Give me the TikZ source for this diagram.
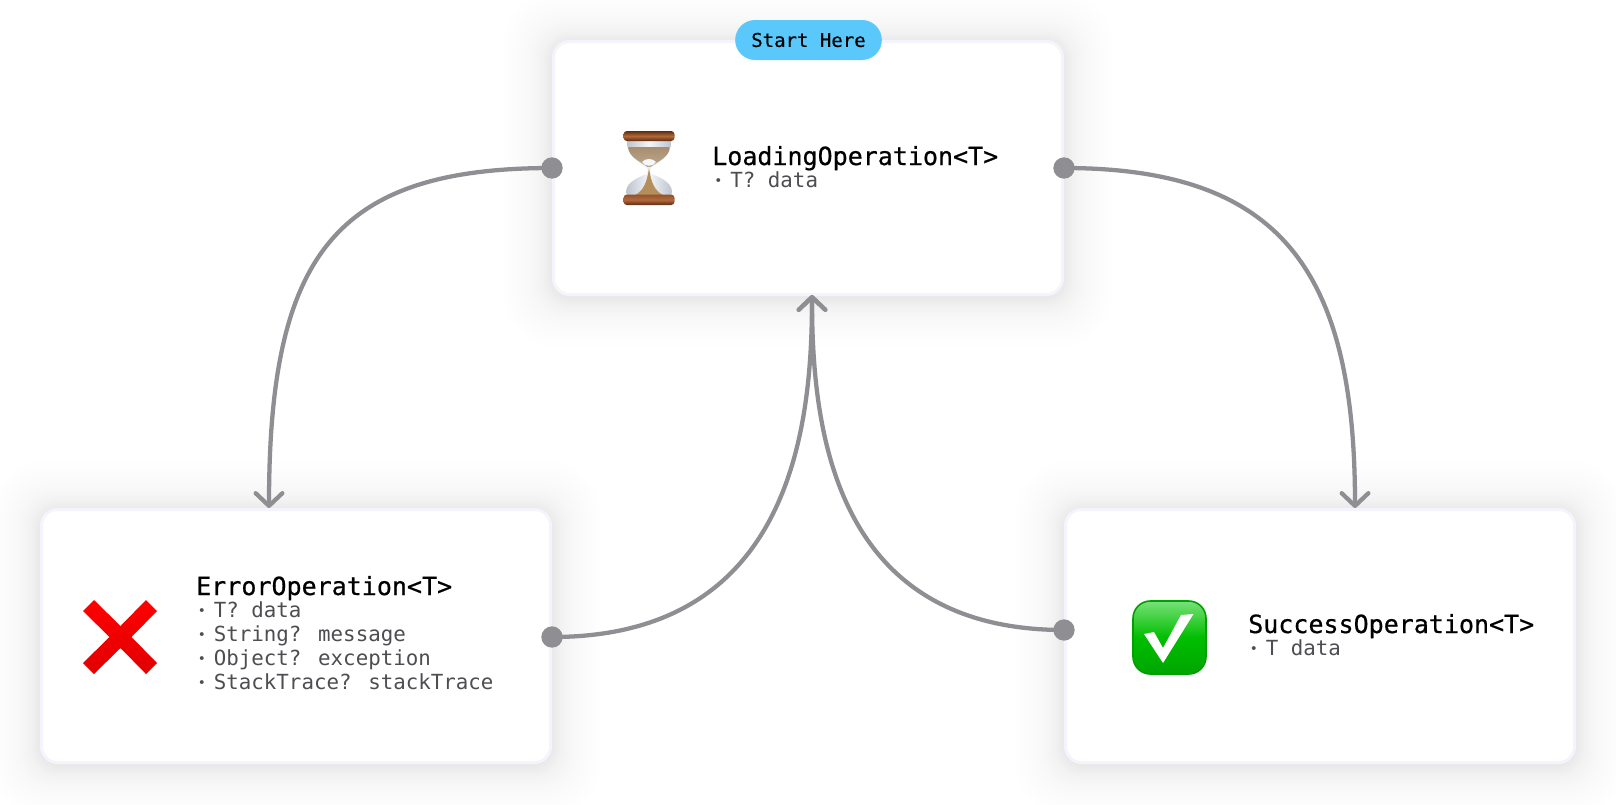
\documentclass[tikz,border=0pt]{standalone}
\usepackage{fontspec}
\usetikzlibrary{arrows.meta,calc}
\newfontfamily\monof{DejaVu Sans Mono}
\newfontfamily\monomed[FakeBold=0.6]{DejaVu Sans Mono}
\newfontfamily\monobadge[FakeBold=0.4]{DejaVu Sans Mono}
\definecolor{linegray}{HTML}{8E8E93}
\definecolor{cardborder}{HTML}{F4F4FD}
\definecolor{badgeblue}{HTML}{5AC8FA}
\definecolor{bodygray}{HTML}{4E4E52}
\definecolor{capdark}{HTML}{5A2C12}
\definecolor{capmid}{HTML}{B4683A}
\definecolor{sandtop}{HTML}{A88E70}
\definecolor{sandtoplight}{HTML}{BCA78C}
\definecolor{sandlow}{HTML}{B48F5C}
\definecolor{glassa}{HTML}{F4F6F9}
\definecolor{glassb}{HTML}{B4B9C4}
\newcommand{\titlefont}{\monomed\fontsize{18.75pt}{22pt}\selectfont}
\newcommand{\bodyfont}{\monof\fontsize{15.6pt}{18pt}\selectfont}
\newcommand{\blt}{\makebox[13.2pt][l]{\hspace{1.2pt}\raisebox{1pt}{\fontsize{10pt}{10pt}\selectfont •}}}
\newcommand{\cardshadow}[2]{%
  \foreach \e in {1,2,...,10,12,14,...,20,23,26,30,34,38,43,48}{
    \fill[black,opacity=0.0058,rounded corners=16pt+0.6*\e*0.75pt]
      (#1-256-\e,#2-128-\e+2) rectangle (#1+256+\e,#2+128+\e+2);
  }}
\tikzset{
  card/.style={draw=cardborder,line width=2.25pt,fill=white,rounded corners=12pt,
    minimum width=381.75pt,minimum height=189.75pt,inner sep=0pt,outer sep=0pt},
  portdot/.style={circle,fill=linegray,inner sep=0pt,minimum size=16pt},
  link/.style={draw=linegray,line width=3.2pt,line cap=round},
  arrowlink/.style={link,-{Straight Barb[length=9.5pt,width=20pt,line width=3.2pt,round]}},
  titletext/.style={anchor=base west,inner sep=0pt,font=\titlefont,text=black},
  bodytext/.style={anchor=base west,inner sep=0pt,font=\bodyfont,text=bodygray},
  badge/.style={fill=badgeblue,rounded corners=15pt,minimum width=110pt,minimum height=30pt,
    inner sep=0pt,font=\monobadge\fontsize{14.25pt}{16pt}\selectfont,text=black},
}
\begin{document}
\begin{tikzpicture}[x=0.75pt,y=-0.75pt]
\useasboundingbox (0,0) rectangle (1616,804);
\fill[white] (0,0) rectangle (1616,804);
\cardshadow{808}{168}
\cardshadow{296}{636}
\cardshadow{1320}{636}
\node[card] (loading) at (808,168) {};
\node[card] (err) at (296,636) {};
\node[card] (succ) at (1320,636) {};

% connector end points
\coordinate (errin) at (269,508);
\coordinate (succin) at (1355,508);
\coordinate (loadin) at (812,295);
\node[portdot] (dotLL) at (552,168) {};
\node[portdot] (dotLR) at (1064,168) {};
\node[portdot] (dotE) at (552,637) {};
\node[portdot] (dotS) at (1064,630) {};

\draw[arrowlink] (dotLL.center) .. controls (335,168) and (269,255) .. (errin);
\draw[arrowlink] (dotLR.center) .. controls (1280,168) and (1355,270) .. (succin);
\draw[arrowlink] (dotE.center) .. controls (790,637) and (812,430) .. (loadin);
\draw[arrowlink] (dotS.center) .. controls (834,630) and (812,430) .. (loadin);

\node[badge] (start) at (808.5,40) {Start Here};

% loading text
\node[titletext] (t1) at (712,165) {LoadingOperation<T>};
\node[bodytext] (b1) at (712.5,187) {\blt T? data};
% error text
\node[titletext] (t2) at (196,595) {ErrorOperation<T>};
\node[bodytext] (b2a) at (196,617) {\blt T? data};
\node[bodytext] (b2b) at (196,641) {\blt String? message};
\node[bodytext] (b2c) at (196,665) {\blt Object? exception};
\node[bodytext] (b2d) at (196,689) {\blt StackTrace? stackTrace};
% success text
\node[titletext] (t3) at (1248,633) {SuccessOperation<T>};
\node[bodytext] (b3) at (1248,655) {\blt T data};

% hourglass
\begin{scope}
  % glass
  \shade[left color=glassb,right color=glassb,middle color=glassa]
    (627,141) .. controls (626,156) and (640,162) .. (647,168)
    .. controls (648,170) and (648,172) .. (647,174)
    .. controls (638,177) and (622,184) .. (627,196)
    -- (671,196) .. controls (676,184) and (660,177) .. (651,174)
    .. controls (650,172) and (650,170) .. (651,168)
    .. controls (658,162) and (672,156) .. (671,141) -- cycle;
  % upper sand
  \shade[top color=sandtop,bottom color=sandtoplight]
    (628.5,147) .. controls (628,157) and (640,161) .. (647.5,167) -- (650.5,167)
    .. controls (658,161) and (670,157) .. (669.5,147) -- cycle;
  \fill[glassa] (642,162) .. controls (645,158) and (653,158) .. (656,162)
    .. controls (653,167) and (645,167) .. (642,162) -- cycle;
  % lower sand
  \fill[sandlow] (635,195) .. controls (643,191) and (647,183) .. (649,168)
    .. controls (651,183) and (655,191) .. (663,195) -- cycle;
  % caps
  \shade[top color=capdark,bottom color=capdark,middle color=capmid,rounded corners=2.5pt]
    (623.5,131) rectangle (674.5,141);
  \shade[top color=capmid!80!black,bottom color=capdark,middle color=capmid,rounded corners=2.5pt]
    (623.5,194.5) rectangle (674.5,205);
\end{scope}

% red cross
\shade[top color=red,bottom color=red!88!black]
  (83,611) -- (94,600) -- (120.5,626) -- (146,600) -- (157,611) -- (131.5,637)
  -- (157,663) -- (146,674) -- (120.5,648) -- (94,674) -- (83,663) -- (109.5,637) -- cycle;

% check mark
\draw[draw={rgb,255:red,0;green,160;blue,0},line width=1.2pt,
      top color={rgb,255:red,120;green,225;blue,120},bottom color={rgb,255:red,0;green,165;blue,0},
      middle color={rgb,255:red,0;green,190;blue,0},rounded corners=13pt]
  (1133,601) rectangle (1206,674);
\fill[white] (1144,634) -- (1154,632) -- (1163,648) -- (1181,615) -- (1193.5,614) -- (1163,663) -- cycle;
\end{tikzpicture}
\end{document}
